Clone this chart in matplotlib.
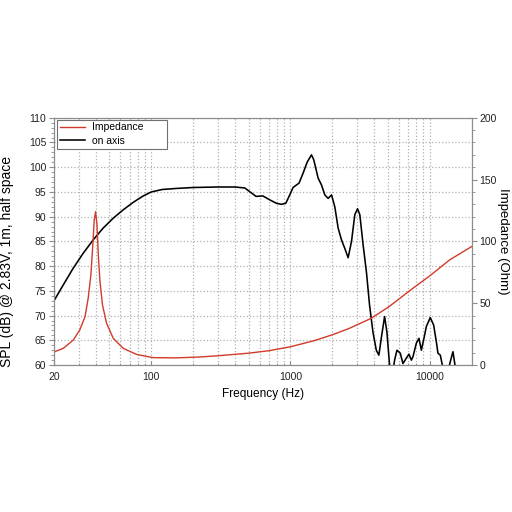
import numpy as np
import matplotlib
matplotlib.use('Agg')
import matplotlib.pyplot as plt
from matplotlib.ticker import MultipleLocator, FixedLocator, NullFormatter, LogLocator

plt.rcParams['font.family'] = ['Liberation Sans', 'DejaVu Sans']

# on-axis SPL (dB)
spl_freq = [20, 23.3, 27.5, 32.4, 38.2, 45.1, 53.3, 62.9, 74.2, 87.6, 100, 120,
            150, 200, 300, 400, 470, 507, 566, 633, 710, 793, 861, 925, 977,
            1044, 1153, 1232, 1317, 1415, 1470, 1580, 1671, 1765, 1865, 1973,
            2082, 2200, 2326, 2455, 2596, 2745, 2899, 3033, 3150, 3326, 3520,
            3700, 3913, 4137, 4316, 4490, 4744, 4930, 5154, 5450, 5600, 5820,
            6150, 6430, 6800, 7100, 7390, 7590, 8020, 8380, 8715, 9054, 9470,
            10100, 10680, 11170, 11470, 11930, 12330, 13200, 14160, 14710,
            15200, 16500, 20000]
spl_db = [73.0, 76.2, 79.6, 82.6, 85.3, 87.7, 89.7, 91.4, 92.9, 94.2, 95.0,
          95.5, 95.7, 95.9, 96.0, 96.0, 95.8, 95.1, 94.1, 94.2, 93.4, 92.7,
          92.5, 92.7, 94.1, 95.9, 96.8, 98.8, 101.0, 102.5, 101.5, 97.8, 96.4,
          94.4, 93.7, 94.4, 92.0, 87.7, 85.3, 83.6, 81.7, 85.0, 90.4, 91.6,
          90.4, 84.3, 78.6, 72.1, 66.7, 63.0, 62.0, 65.4, 69.8, 66.7, 60.0,
          58.8, 61.0, 63.0, 62.4, 60.3, 61.4, 62.2, 61.0, 61.7, 64.4, 65.4,
          63.0, 65.1, 67.8, 69.6, 68.1, 64.7, 62.4, 62.0, 60.0, 57.5, 61.0,
          62.7, 60.0, 57.0, 56.0]

# impedance (Ohm)
imp_freq = [20, 23.3, 27.5, 30.6, 33.4, 35.2, 36.8, 38.0, 38.9, 39.8, 40.7,
            41.6, 42.8, 44.6, 47.7, 53.3, 62.9, 78.4, 103, 150, 221, 300, 500,
            700, 1000, 1500, 2000, 2650, 3800, 5100, 7200, 10000, 13900, 20000]
imp_ohm = [10.6, 13.5, 20.2, 28.3, 39.1, 54.0, 72.9, 97.2, 117.4, 124.1, 113.4,
           89.1, 67.5, 48.6, 33.8, 21.6, 13.5, 8.6, 6.0, 5.8, 6.5, 7.5, 9.6,
           11.6, 14.8, 19.9, 24.5, 29.7, 37.8, 47.2, 60.2, 72.1, 85.0, 95.8]

x_ticks = [20, 100, 1000, 10000]
x_labels = ['20', '100', '1000', '10000']

fig = plt.figure(figsize=(5.12, 5.12), dpi=100)
ax = fig.add_axes([0.1055, 0.287, 0.8155, 0.483])
ax2 = ax.twinx()

grid_col = '#b0b0b0'
edge_col = '#8c8c8c'

ax.set_xscale('log')
ax.set_xlim(20, 20000)
ax.set_ylim(60, 110)
ax.xaxis.set_major_locator(FixedLocator(x_ticks))
ax.xaxis.set_minor_locator(LogLocator(base=10, subs=np.arange(1, 10)))
ax.xaxis.set_minor_formatter(NullFormatter())
ax.set_xticklabels(x_labels)
ax.yaxis.set_major_locator(MultipleLocator(5))
ax.yaxis.set_minor_locator(MultipleLocator(1))
ax.grid(which='both', axis='x', linestyle=':', color=grid_col, linewidth=0.9)
ax.grid(which='major', axis='y', linestyle=':', color=grid_col, linewidth=0.9)

ax2.set_ylim(0, 200)
ax2.yaxis.set_major_locator(MultipleLocator(50))
ax2.yaxis.set_minor_locator(MultipleLocator(10))

l_spl, = ax.plot(spl_freq, spl_db, color='black', linewidth=1.15, label='on axis')
l_imp, = ax2.plot(imp_freq, imp_ohm, color='#d23a2a', linewidth=1.0, label='Impedance')

for a in (ax, ax2):
    for s in a.spines.values():
        s.set_color(edge_col)
    a.tick_params(which='both', colors=edge_col, labelcolor='#222222', labelsize=7.5)
    a.tick_params(which='major', length=3.5, pad=2)
    a.tick_params(which='minor', length=2)
ax.tick_params(axis='x', which='both', direction='in', pad=5)
ax.tick_params(axis='x', which='minor', length=1.5)
ax.tick_params(axis='x', which='major', length=3)

ax.set_xlabel('Frequency (Hz)', fontsize=8.6, labelpad=4)
ax.set_ylabel('SPL (dB) @ 2.83V, 1m, half space', fontsize=10)
ax.yaxis.set_label_coords(-0.097, 0.42)
ax2.set_ylabel('Impedance (Ohm)', fontsize=9.5, rotation=270, va='center')
ax2.yaxis.set_label_coords(1.076, 0.5)

leg = ax2.legend(handles=[l_imp, l_spl], loc='upper left', fontsize=7.5,
                 bbox_to_anchor=(0.007, 0.0, 0.263, 0.992), mode='expand',
                 frameon=True, fancybox=False, borderaxespad=0,
                 handlelength=2.4, handletextpad=0.75, labelspacing=0.35,
                 borderpad=0.25)
leg.get_frame().set_edgecolor('#707070')
leg.get_frame().set_linewidth(0.8)
leg.get_frame().set_alpha(1)

fig.savefig('out.png', dpi=100)
